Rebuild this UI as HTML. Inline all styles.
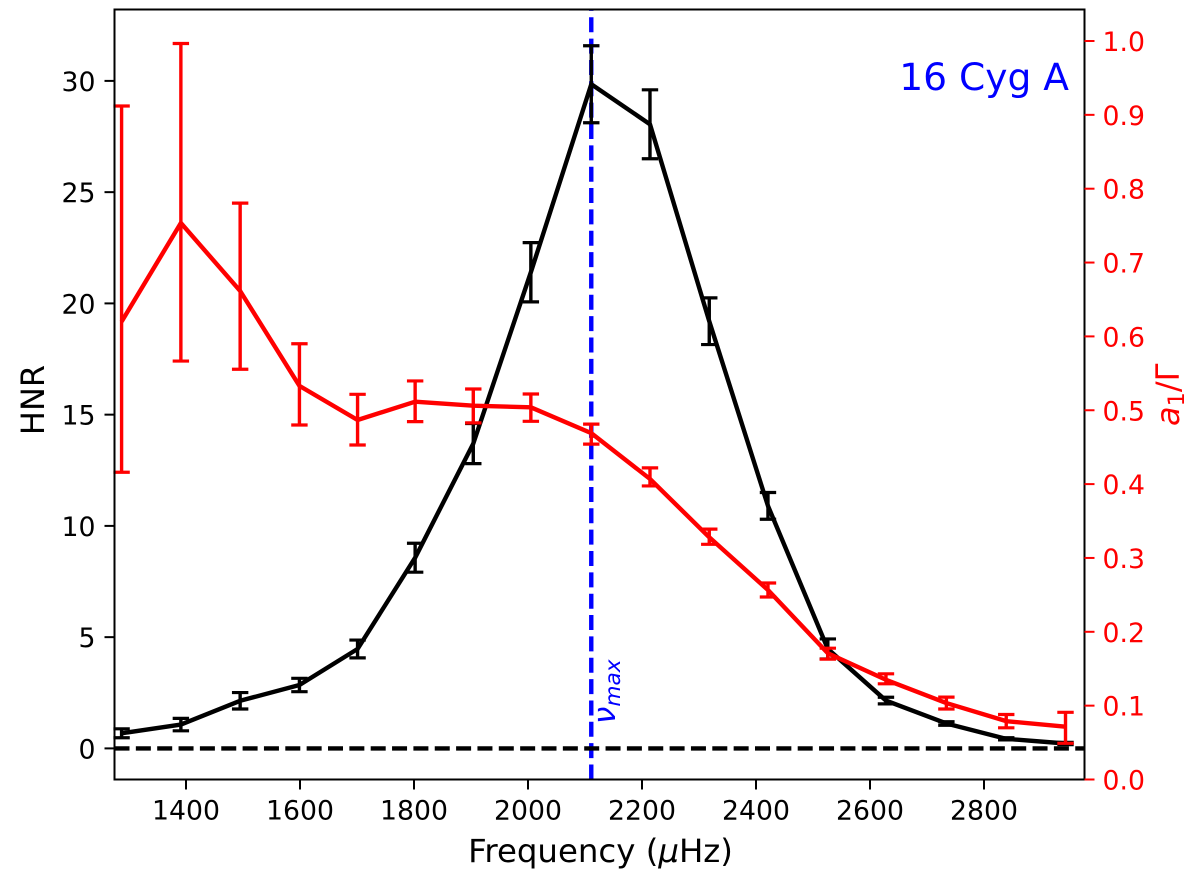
<!DOCTYPE html>
<html lang="en">
<head>
<meta charset="utf-8">
<title>16 Cyg A HNR and a1/Gamma versus frequency</title>
<style>
  html, body { margin: 0; padding: 0; background: #fff; }
  svg { display: block; }
  text { font-family: "DejaVu Sans", "Liberation Sans", sans-serif; }
</style>
</head>
<body>
<svg id="chart" xmlns="http://www.w3.org/2000/svg" width="1200" height="876" viewBox="0 0 1200 876">
  <rect x="0" y="0" width="1200" height="876" fill="#fff"/>
  <g id="blue-layer"></g>
  <g id="black-layer"></g>
  <g id="zero-layer"></g>
  <g id="red-layer"></g>
  <g id="axes-layer"></g>
  <text x="600.5" y="862" font-size="32.4" text-anchor="middle" fill="#000">Frequency (<tspan font-style="italic">μ</tspan>Hz)</text>
  <text x="0" y="0" transform="translate(44,400) rotate(-90)" font-size="32" text-anchor="middle" fill="#000">HNR</text>
  <text x="0" y="0" transform="translate(1179,426) rotate(-90)" font-size="32" fill="#f00"><tspan font-style="italic">a</tspan><tspan font-size="22.4" dy="5">1</tspan><tspan dy="-5">/Γ</tspan></text>
  <text x="0" y="0" transform="translate(615,724) rotate(-90)" font-size="31" fill="#00f"><tspan font-style="italic">ν</tspan><tspan font-style="italic" font-size="21.7" dy="5">max</tspan></text>
  <text x="1069" y="90" font-size="37.6" text-anchor="end" fill="#00f">16 Cyg A</text>
</svg>
<script>
var frequencies = [1287, 1391, 1495, 1599, 1701, 1802, 1904, 2005, 2111, 2214, 2318, 2421, 2526, 2628, 2734, 2839, 2943];
var hnrValues = [0.68, 1.07, 2.14, 2.85, 4.47, 8.57, 13.7, 21.4, 29.85, 28.05, 19.2, 10.9, 4.47, 2.15, 1.12, 0.43, 0.22];
var hnrErrors = [0.2, 0.28, 0.37, 0.3, 0.4, 0.65, 0.9, 1.33, 1.73, 1.55, 1.05, 0.6, 0.45, 0.15, 0.08, 0.05, 0.05];
var ratioValues = [0.62, 0.7536, 0.6615, 0.533, 0.4868, 0.5116, 0.5062, 0.504, 0.469, 0.407, 0.328, 0.2566, 0.171, 0.135, 0.1035, 0.079, 0.0715];
var ratioErrorsUp = [0.292, 0.243, 0.119, 0.057, 0.0348, 0.0281, 0.0226, 0.018, 0.0122, 0.015, 0.011, 0.0095, 0.0068, 0.0081, 0.008, 0.009, 0.0195];
var ratioErrorsDown = [0.204, 0.187, 0.106, 0.053, 0.0339, 0.027, 0.0233, 0.019, 0.0149, 0.0095, 0.0095, 0.0095, 0.0081, 0.0054, 0.008, 0.009, 0.0225];
var xTickValues = [1400, 1600, 1800, 2000, 2200, 2400, 2600, 2800];
var leftTickValues = [0, 5, 10, 15, 20, 25, 30];
var rightTickValues = [0.0, 0.1, 0.2, 0.3, 0.4, 0.5, 0.6, 0.7, 0.8, 0.9, 1.0];
var nuMaxFrequency = 2111;

var NS = 'http://www.w3.org/2000/svg';
var plotLeft = 114.5, plotRight = 1084.5, plotTop = 9.5, plotBottom = 779.5;

function xScale(f) { return 186 + (f - 1400) * 0.57; }
function yLeft(v) { return 748.4 - v * 22.25; }
function yRight(v) { return 779.5 - v * 738.5; }

function make(parent, tag, attrs) {
  var el = document.createElementNS(NS, tag);
  for (var k in attrs) { el.setAttribute(k, attrs[k]); }
  parent.appendChild(el);
  return el;
}

var blueLayer = document.getElementById('blue-layer');
var blackLayer = document.getElementById('black-layer');
var zeroLayer = document.getElementById('zero-layer');
var redLayer = document.getElementById('red-layer');
var axesLayer = document.getElementById('axes-layer');

var nuLine = make(blueLayer, 'line', {x1: xScale(nuMaxFrequency), x2: xScale(nuMaxFrequency), y1: plotBottom, y2: plotTop, stroke: '#00f', 'stroke-width': 4.4, 'stroke-dasharray': '15 6.35'});



function drawSeries(layer, color, values, up, down, yFn, seriesName) {
  var pts = [];
  for (var i = 0; i < values.length; i++) {
    var x = xScale(frequencies[i]);
    pts.push(x.toFixed(2) + ',' + yFn(values[i]).toFixed(2));
    var top = yFn(values[i] + up[i]);
    var bot = yFn(values[i] - down[i]);
    var stem = make(layer, 'line', {x1: x, x2: x, y1: top, y2: bot, stroke: color, 'stroke-width': 3.4});
    
    
    var capTop = make(layer, 'line', {x1: x - 8.2, x2: x + 8.2, y1: top, y2: top, stroke: color, 'stroke-width': 3.2});
    
    
    var capBot = make(layer, 'line', {x1: x - 8.2, x2: x + 8.2, y1: bot, y2: bot, stroke: color, 'stroke-width': 3.2});
    
    
  }
  var line = make(layer, 'polyline', {points: pts.join(' '), fill: 'none', stroke: color, 'stroke-width': 4.4, 'stroke-linejoin': 'round'});
  
  
}

drawSeries(blackLayer, '#000', hnrValues, hnrErrors, hnrErrors, yLeft, 'hnr');

var zeroLine = make(zeroLayer, 'line', {x1: plotLeft, x2: plotRight, y1: yLeft(0), y2: yLeft(0), stroke: '#000', 'stroke-width': 4.4, 'stroke-dasharray': '15 6.35'});



drawSeries(redLayer, '#f00', ratioValues, ratioErrorsUp, ratioErrorsDown, yRight, 'a1-gamma');

var frame = make(axesLayer, 'rect', {x: plotLeft, y: plotTop, width: plotRight - plotLeft, height: plotBottom - plotTop, fill: 'none', stroke: '#000', 'stroke-width': 2});



xTickValues.forEach(function (v) {
  var x = xScale(v);
  var tick = make(axesLayer, 'line', {x1: x, x2: x, y1: plotBottom, y2: plotBottom + 10, stroke: '#000', 'stroke-width': 2});
  
  
  var label = make(axesLayer, 'text', {x: x, y: 819.3, 'font-size': 26.7, 'text-anchor': 'middle', fill: '#000'});
  label.textContent = String(v);
  
  
});

leftTickValues.forEach(function (v) {
  var y = yLeft(v);
  var tick = make(axesLayer, 'line', {x1: plotLeft - 10, x2: plotLeft, y1: y, y2: y, stroke: '#000', 'stroke-width': 2});
  
  
  var label = make(axesLayer, 'text', {x: 95.5, y: y + 10, 'font-size': 26.7, 'text-anchor': 'end', fill: '#000'});
  label.textContent = String(v);
  
  
});

rightTickValues.forEach(function (v) {
  var y = yRight(v);
  var tick = make(axesLayer, 'line', {x1: plotRight, x2: plotRight + 10, y1: y, y2: y, stroke: '#f00', 'stroke-width': 2});
  
  
  var label = make(axesLayer, 'text', {x: 1102.5, y: y + 10, 'font-size': 26.7, fill: '#f00'});
  label.textContent = v.toFixed(1);
  
  
});
</script>
</body>
</html>
